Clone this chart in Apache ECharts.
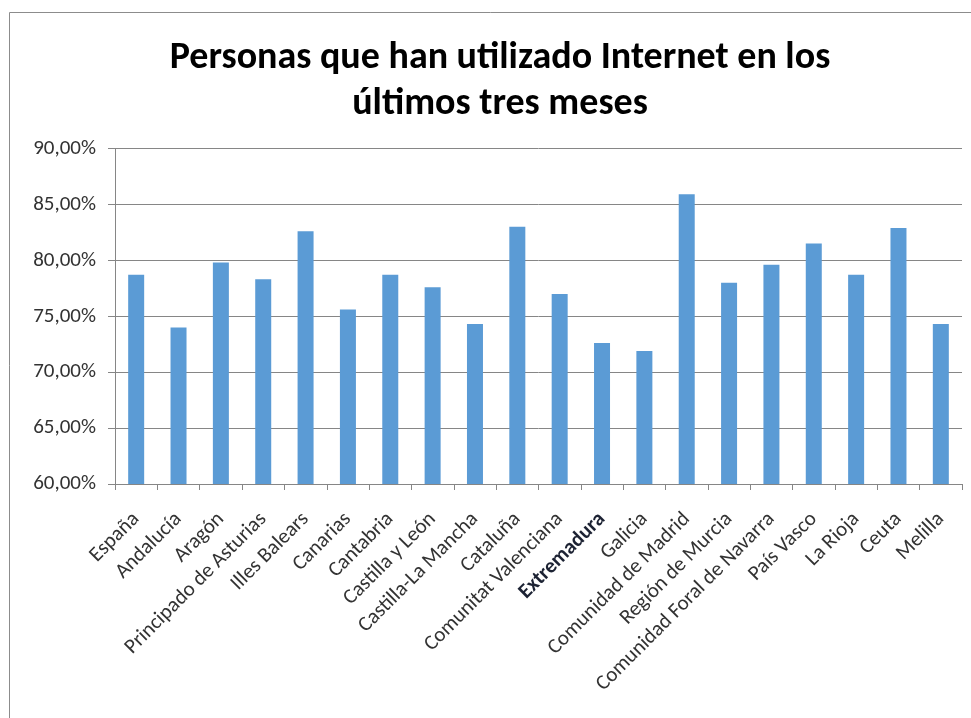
<!DOCTYPE html>
<html>
<head>
<meta charset="utf-8">
<script src="https://cdn.jsdelivr.net/npm/echarts@6/dist/echarts.min.js"></script>
<style>
  html, body { margin: 0; padding: 0; background: #fff; }
  #chart { width: 971px; height: 718px; }
</style>
</head>
<body>
<div id="chart"></div>
<script>
// Regions and share of people who used Internet in the last three months (%)
const categories = [
  'España', 'Andalucía', 'Aragón', 'Principado de Asturias', 'Illes Balears',
  'Canarias', 'Cantabria', 'Castilla y León', 'Castilla-La Mancha', 'Cataluña',
  'Comunitat Valenciana', 'Extremadura', 'Galicia', 'Comunidad de Madrid',
  'Región de Murcia', 'Comunidad Foral de Navarra', 'País Vasco', 'La Rioja',
  'Ceuta', 'Melilla'
];
const values = [
  78.7, 74.0, 79.8, 78.3, 82.6,
  75.6, 78.7, 77.6, 74.3, 83.0,
  77.0, 72.6, 71.9, 85.9,
  78.0, 79.6, 81.5, 78.7,
  82.9, 74.3
];
const highlighted = 'Extremadura';
const yTicks = { min: 60, max: 90, step: 5 };

const FONT = 'Carlito, "Liberation Sans Narrow", "Open Sans", sans-serif';
const chart = echarts.init(document.getElementById('chart'), null, { renderer: 'canvas' });

chart.setOption({
  backgroundColor: '#ffffff',
  animation: false,
  title: {
    text: 'Personas que han utilizado Internet en los\núltimos tres meses',
    left: 495,
    textAlign: 'center',
    top: 30,
    textStyle: {
      fontFamily: FONT,
      fontSize: 38,
      fontWeight: 'bold',
      color: '#000000',
      lineHeight: 46
    }
  },
  graphic: [{
    type: 'rect',
    shape: { x: 9.5, y: 12.5, width: 1000, height: 800 },
    style: { fill: 'none', stroke: '#8c8c8c', lineWidth: 1 },
    silent: true
  }],
  grid: { left: 115, right: 9, top: 148.5, bottom: 234, containLabel: false },
  xAxis: {
    type: 'category',
    data: categories,
    axisLine: { lineStyle: { color: '#868686', width: 1 } },
    axisTick: { show: true, alignWithLabel: false, length: 6, lineStyle: { color: '#868686' } },
    axisLabel: {
      interval: 0,
      rotate: 45,
      margin: 32,
      fontFamily: FONT,
      fontSize: 21,
      color: '#333333',
      formatter: v => v === highlighted ? '{b|' + v + '}' : v,
      rich: {
        b: { fontFamily: FONT, fontSize: 21, fontWeight: 'bold', color: '#1c2233' }
      }
    }
  },
  yAxis: {
    type: 'value',
    min: yTicks.min,
    max: yTicks.max,
    interval: yTicks.step,
    axisLine: { show: true, lineStyle: { color: '#868686', width: 1 } },
    axisTick: { show: true, length: 7, lineStyle: { color: '#868686' } },
    splitLine: { lineStyle: { color: '#868686', width: 1 } },
    axisLabel: {
      margin: 19,
      fontFamily: FONT,
      fontSize: 21,
      color: '#333333',
      formatter: v => v.toFixed(2).replace('.', ',') + '%'
    }
  },
  series: [{
    type: 'bar',
    data: values,
    barWidth: 16,
    itemStyle: { color: '#5b9bd5' }
  }]
});
</script>
</body>
</html>
